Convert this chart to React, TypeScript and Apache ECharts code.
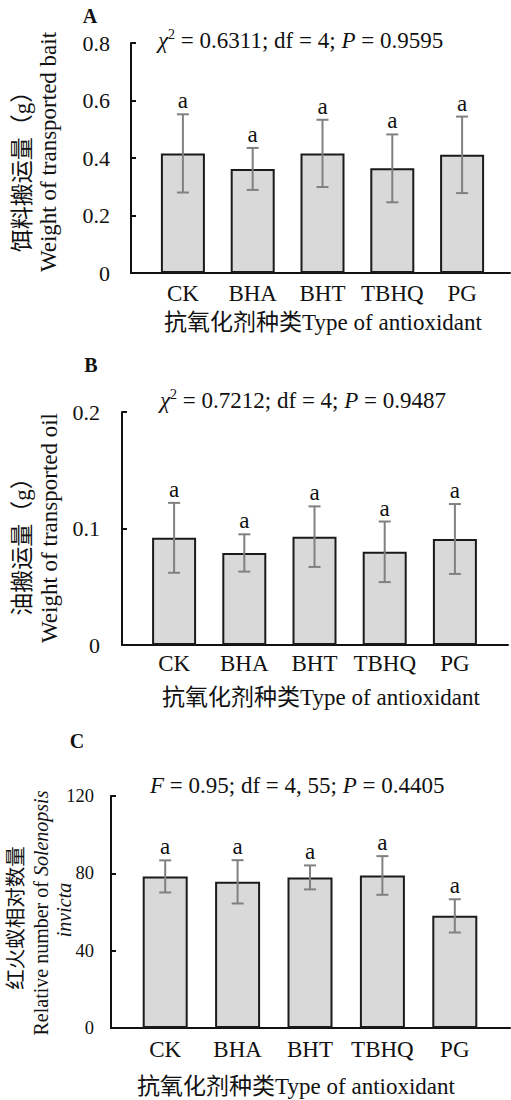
import React, { useEffect, useRef } from "react";
import * as echarts from "echarts";

const categories = ["CK", "BHA", "BHT", "TBHQ", "PG"];

const baitMean = [0.416, 0.362, 0.416, 0.364, 0.411];
const baitErr = [0.136, 0.073, 0.117, 0.118, 0.133];
const baitLetters = ["a", "a", "a", "a", "a"];
const baitTicks = { min: 0, max: 0.8, interval: 0.2 };

const oilMean = [0.092, 0.079, 0.093, 0.08, 0.091];
const oilErr = [0.03, 0.016, 0.026, 0.026, 0.03];
const oilLetters = ["a", "a", "a", "a", "a"];
const oilTicks = { min: 0, max: 0.2, interval: 0.1 };

const antMean = [78.4, 75.6, 77.9, 78.9, 58.0];
const antErr = [8.3, 11.2, 6.2, 10.0, 8.6];
const antLetters = ["a", "a", "a", "a", "a"];
const antTicks = { min: 0, max: 120, interval: 40 };

const SERIF = "Liberation Serif, Noto Sans CJK SC, serif";
const INK = "#111111";

export default function App() {
  const ref = useRef<HTMLDivElement>(null);

  useEffect(() => {
    if (!ref.current) return;
    const chart = echarts.init(ref.current, undefined, { renderer: "svg" });

    const panels = [
      { mean: baitMean, err: baitErr, letters: baitLetters, ticks: baitTicks, grid: { left: 148, top: 43, width: 349, height: 230 }, lineGrid: { left: 131, top: 43, width: 379, height: 230 }, offset: 17, labelMargin: 21, catMargin: 9, barWidth: 44, tickFont: 22 },
      { mean: oilMean, err: oilErr, letters: oilLetters, ticks: oilTicks, grid: { left: 139, top: 412, width: 351, height: 233 }, lineGrid: { left: 122, top: 412, width: 386, height: 233 }, offset: 17, labelMargin: 22, catMargin: 7, barWidth: 44, tickFont: 22 },
      { mean: antMean, err: antErr, letters: antLetters, ticks: antTicks, grid: { left: 129, top: 796, width: 362, height: 232 }, lineGrid: { left: 111, top: 796, width: 399, height: 232 }, offset: 18, labelMargin: 17, catMargin: 10, barWidth: 45, tickFont: 18.5 },
    ];

    const grids: any[] = [];
    const xAxes: any[] = [];
    const yAxes: any[] = [];
    const series: any[] = [];

    panels.forEach((p) => {
      grids.push({ ...p.grid, containLabel: false });
    });
    panels.forEach((p) => {
      grids.push({ ...p.lineGrid, containLabel: false });
    });

    panels.forEach((p, k) => {
      xAxes.push({
        type: "category",
        gridIndex: k,
        data: categories,
        axisLine: { show: false },
        axisTick: { show: false },
        axisLabel: { interval: 0, color: INK, fontFamily: SERIF, fontSize: 23, margin: p.catMargin },
        splitLine: { show: false },
      });
      yAxes.push({
        type: "value",
        gridIndex: k,
        min: p.ticks.min,
        max: p.ticks.max,
        interval: p.ticks.interval,
        offset: p.offset,
        axisLine: { show: true, lineStyle: { color: INK, width: 2 } },
        axisTick: { show: true, inside: true, length: 5, lineStyle: { color: INK, width: 2 } },
        axisLabel: { color: INK, fontFamily: SERIF, fontSize: p.tickFont, margin: p.labelMargin },
        splitLine: { show: false },
      });
    });
    panels.forEach((p, k) => {
      xAxes.push({
        type: "value",
        gridIndex: 3 + k,
        min: 0,
        max: 1,
        axisLine: { show: true, onZero: false, lineStyle: { color: INK, width: 2 } },
        axisTick: { show: false },
        axisLabel: { show: false },
        splitLine: { show: false },
      });
      yAxes.push({ type: "value", gridIndex: 3 + k, min: 0, max: 1, show: false });
    });

    panels.forEach((p, k) => {
      series.push({
        type: "bar",
        xAxisIndex: k,
        yAxisIndex: k,
        data: p.mean,
        barWidth: p.barWidth,
        itemStyle: { color: "#d9d9d9", borderColor: "#1a1a1a", borderWidth: 2 },
        z: 2,
      });
      const letters = p.letters;
      series.push({
        type: "custom",
        xAxisIndex: k,
        yAxisIndex: k,
        z: 3,
        data: p.mean.map((m, i) => [i, m, p.err[i]]),
        renderItem: (params: any, api: any) => {
          const i = api.value(0);
          const m = api.value(1);
          const e = api.value(2);
          const top = api.coord([i, m + e]);
          const bot = api.coord([i, m - e]);
          const x = top[0];
          const cap = 6;
          const st = { stroke: "#808080", lineWidth: 2 };
          return {
            type: "group",
            children: [
              { type: "line", shape: { x1: x, y1: top[1], x2: x, y2: bot[1] }, style: st },
              { type: "line", shape: { x1: x - cap, y1: top[1], x2: x + cap, y2: top[1] }, style: st },
              { type: "line", shape: { x1: x - cap, y1: bot[1], x2: x + cap, y2: bot[1] }, style: st },
              {
                type: "text",
                x: x,
                y: top[1] - 2,
                style: { text: letters[i], fontFamily: SERIF, fontSize: 23, fill: INK, align: "center", verticalAlign: "bottom" },
              },
            ],
          };
        },
      });
    });

    const rotText = (text: string, x: number, y: number, size: number, rich?: any) => ({
      type: "text",
      x,
      y,
      rotation: Math.PI / 2,
      style: { text, fontFamily: SERIF, fontSize: size, fill: INK, align: "center", verticalAlign: "middle", rich },
    });
    const plainText = (text: string, x: number, y: number, size: number, align = "center", weight = "normal", rich?: any) => ({
      type: "text",
      x,
      y,
      style: { text, fontFamily: SERIF, fontSize: size, fontWeight: weight, fill: INK, align, verticalAlign: "middle", rich },
    });

    const statRich = {
      i: { fontFamily: SERIF, fontSize: 23, fontStyle: "italic", fill: INK, lineHeight: 26 },
      n: { fontFamily: SERIF, fontSize: 23, fill: INK, lineHeight: 26 },
      sup: { fontFamily: SERIF, fontSize: 14, fill: INK, lineHeight: 14, verticalAlign: "top" },
    };
    const titleRich = {
      n: { fontFamily: SERIF, fontSize: 20, fill: INK },
      i: { fontFamily: SERIF, fontSize: 20, fontStyle: "italic", fill: INK },
    };

    const graphic: any[] = [
      plainText("A", 90, 16, 20, "center", "bold"),
      plainText("B", 91, 365, 20, "center", "bold"),
      plainText("C", 77, 741, 20, "center", "bold"),
      plainText("{i|χ}{sup|2}{n| = 0.6311; df = 4; }{i|P}{n| = 0.9595}", 158, 40, 23, "left", "normal", statRich),
      plainText("{i|χ}{sup|2}{n| = 0.7212; df = 4; }{i|P}{n| = 0.9487}", 160, 400, 23, "left", "normal", statRich),
      plainText("{i|F}{n| = 0.95; df = 4, 55; }{i|P}{n| = 0.4405}", 150, 785, 23, "left", "normal", statRich),
      plainText("抗氧化剂种类Type of antioxidant", 323, 322, 23),
      plainText("抗氧化剂种类Type of antioxidant", 321, 697, 23),
      plainText("抗氧化剂种类Type of antioxidant", 296, 1086, 23),
      rotText("饵料搬运量（g）", 22, 166, 23),
      rotText("Weight of transported bait", 48, 152, 23),
      rotText("油搬运量（g）", 22, 541, 23),
      rotText("Weight of transported oil", 49, 528, 23),
      rotText("红火蚁相对数量", 16, 918, 20.5),
      rotText("{n|Relative number of }{i|Solenopsis}", 41, 913, 20, titleRich),
      rotText("{i|invicta}", 64, 910, 20, titleRich),
    ];

    chart.setOption({
      animation: false,
      backgroundColor: "#ffffff",
      grid: grids,
      xAxis: xAxes,
      yAxis: yAxes,
      series,
      graphic,
    });

    return () => chart.dispose();
  }, []);

  return (
    <div
      ref={ref}
      style={{ position: "absolute", left: 0, top: 0, width: 511, height: 1100, background: "#fff" }}
    />
  );
}
